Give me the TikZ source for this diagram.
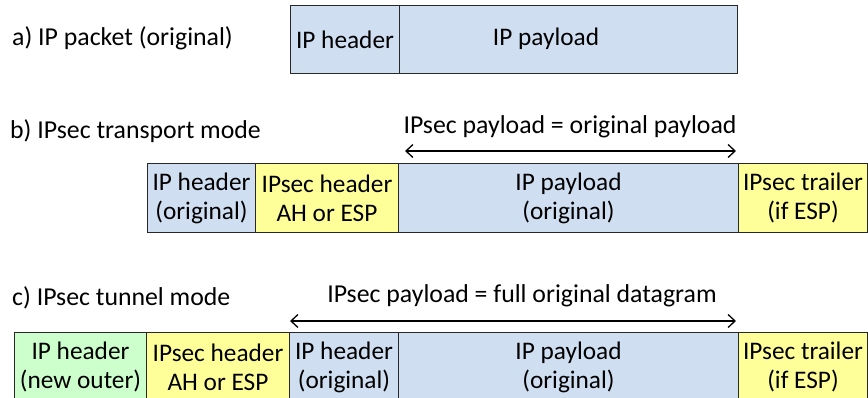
\documentclass[tikz,border=0pt]{standalone}
\usepackage{fontspec}
\setmainfont{Carlito}
\usetikzlibrary{arrows.meta}
\definecolor{ipblue}{RGB}{207,222,241}
\definecolor{ipyellow}{RGB}{255,255,153}
\definecolor{ipgreen}{RGB}{204,255,204}
\definecolor{edge}{RGB}{40,40,40}
\tikzset{
  blk/.style={draw=edge, line width=1pt, rectangle, inner sep=0pt, anchor=north west,
    align=center, font=\fontsize{25.3}{29}\selectfont},
  lbl/.style={inner sep=0pt, anchor=west, font=\fontsize{25.8}{29}\selectfont},
  captxt/.style={inner sep=0pt, font=\fontsize{25.8}{29}\selectfont},
  spanarrow/.style={{Straight Barb[length=7pt,width=13pt]}-{Straight Barb[length=7pt,width=13pt]}, line width=1.3pt}
}
\begin{document}
\begin{tikzpicture}[x=1pt,y=-1pt]
\useasboundingbox (0,0) rectangle (868,398);
% row a
\node[lbl] (la) at (12,38) {a) IP packet (original)};
\node[blk, fill=ipblue, minimum width=109pt, minimum height=68pt] (a1) at (290,5) {IP header};
\node[blk, fill=ipblue, minimum width=338pt, minimum height=68pt] (a2) at (399,5) {};
\node[captxt, font=\fontsize{25.3}{29}\selectfont] (a2t) at (546,39) {IP payload};
% row b
\node[lbl] (lb) at (10,131) {b) IPsec transport mode};
\node[captxt] (bt) at (570,127) {IPsec payload = original payload};
\coordinate (bl) at (405,151);
\coordinate (br) at (736,151);
\draw[spanarrow] (bl) -- (br);
\node[blk, fill=ipblue, minimum width=108pt, minimum height=69pt] (b1) at (147,163) {IP header\\(original)};
\node[blk, fill=ipyellow, minimum width=143pt, minimum height=69pt] (b2) at (255,163) {IPsec header\\AH or ESP};
\node[blk, fill=ipblue, minimum width=340pt, minimum height=69pt] (b3) at (398,163) {IP payload\\(original)};
\node[blk, fill=ipyellow, minimum width=129pt, minimum height=69pt] (b4) at (738,163) {IPsec trailer\\(if ESP)};
% row c
\node[lbl] (lc) at (12,298) {c) IPsec tunnel mode};
\node[captxt] (ct) at (522,296) {IPsec payload = full original datagram};
\coordinate (cl) at (290,321);
\coordinate (cr) at (736,321);
\draw[spanarrow] (cl) -- (cr);
\node[blk, fill=ipgreen, minimum width=132pt, minimum height=69pt] (c1) at (14,332) {IP header\\(new outer)};
\node[blk, fill=ipyellow, minimum width=143pt, minimum height=69pt] (c2) at (146,332) {IPsec header\\AH or ESP};
\node[blk, fill=ipblue, minimum width=109pt, minimum height=69pt] (c3) at (289,332) {IP header\\(original)};
\node[blk, fill=ipblue, minimum width=340pt, minimum height=69pt] (c4) at (398,332) {IP payload\\(original)};
\node[blk, fill=ipyellow, minimum width=129pt, minimum height=69pt] (c5) at (738,332) {IPsec trailer\\(if ESP)};
\end{tikzpicture}
\end{document}
